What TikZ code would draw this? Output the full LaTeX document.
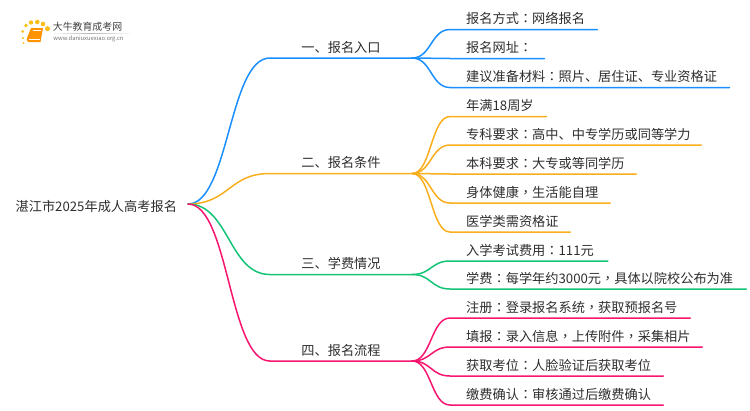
\documentclass[tikz,border=0pt]{standalone}
\usepackage{fontspec}
\setmainfont{Noto Sans CJK SC}
\newfontfamily\tcfont{Noto Sans CJK TC}
\newcommand{\cn}{{\tcfont ：}}
\newcommand{\cm}{{\tcfont ，}}
\definecolor{cblue}{HTML}{1A8FFF}
\definecolor{corange}{HTML}{F9AE1B}
\definecolor{cgreen}{HTML}{14C476}
\definecolor{cpink}{HTML}{F8156F}
\definecolor{ctext}{HTML}{2E2E2E}
\tikzset{
  txt/.style={inner sep=0pt,text=ctext,font=\fontsize{13.2}{16}\selectfont},
  mainbox/.style={txt,anchor=south,minimum height=21pt,minimum width=142pt},
  wire/.style={line width=1.5pt,line cap=round,line join=round}
}
\newcommand{\leaf}[5]{%
  \node[txt,anchor=south west,minimum height=21pt] (#1) at (450,#2) {\makebox[\dimexpr#3pt-450pt\relax][l]{\hspace{16pt}#5}};
  \draw[wire,#4] (#4b) .. controls +(19,0) and ($(#1.south west)+(-19,0)$) .. (#1.south west) -- (#1.south east);
}
\usetikzlibrary{calc}
\begin{document}
\begin{tikzpicture}[x=1pt,y=-1pt]
\useasboundingbox (0,0) rectangle (750,410);
% logo
\foreach \x/\y/\r in {23.5/43/1.0,23/38/1.2,22.7/31.5/1.5,26/25.5/1.9,31/22.5/2.2,37.3/22/2.3,43/24/2.3,47.5/28.7/2.5}
  \fill[corange!80!yellow] (\x,\y) circle (\r);
\shade[left color=white,right color=black!30,draw=none] (52,33) rectangle (90,33.5);
\shade[left color=black!30,right color=white,draw=none] (90,33) rectangle (133,33.5);
\fill[orange!85!yellow] (31,28) -- (43,28) -- (40.5,42) -- (28.5,42) .. controls (26.5,42) and (26.5,39) .. (27,38) -- cycle;
\draw[white,line width=0.5pt] (32.5,30.5) -- (41,30.5) (29,39.5) -- (39.5,39.5);
\node[inner sep=0pt,text=black!75,font=\fontsize{9.9}{12}\selectfont] (logotitle) at (87.5,27) {大牛教育成考网};
\node[inner sep=0pt,text=black!55,font=\fontsize{5.8}{7}\selectfont] (logourl) at (88.5,38.5) {www.daniuxuexiao.org.cn};
% root
\node[txt,minimum width=183pt,anchor=east,minimum height=20pt] (root) at (188,206) {湛江市2025年成人高考报名};
\coordinate (rootc) at (188,204);
% main
\node[mainbox] (m1) at (341,58) {一、报名入口};
\node[mainbox] (m2) at (341,173.5) {二、报名条件};
\node[mainbox] (m3) at (341,274.5) {三、学费情况};
\node[mainbox] (m4) at (341,361) {四、报名流程};
\foreach \m/\c in {m1/cblue,m2/corange,m3/cgreen,m4/cpink}{
  \draw[wire,\c] (rootc) .. controls +(41,0) and ($(\m.south west)+(-41,0)$) .. (\m.south west) -- (\m.south east);
}
\coordinate (cblueb) at (m1.south east);
\coordinate (corangeb) at (m2.south east);
\coordinate (cgreenb) at (m3.south east);
\coordinate (cpinkb) at (m4.south east);
% leaves
\leaf{a1}{29.5}{597}{cblue}{报名方式\cn 网络报名}
\leaf{a2}{58.5}{544}{cblue}{报名网址\cn}
\leaf{a3}{87.5}{729}{cblue}{建议准备材料\cn 照片、居住证、专业资格证}
\leaf{b1}{116.5}{546}{corange}{年满18周岁}
\leaf{b2}{145}{701}{corange}{专科要求\cn 高中、中专学历或同等学力}
\leaf{b3}{174}{636}{corange}{本科要求\cn 大专或等同学历}
\leaf{b4}{203}{610}{corange}{身体健康\cm 生活能自理}
\leaf{b5}{232}{570}{corange}{医学类需资格证}
\leaf{c1}{261}{607.5}{cgreen}{入学考试费用\cn 111元}
\leaf{c2}{289}{746}{cgreen}{学费\cn 每学年约3000元\cm 具体以院校公布为准}
\leaf{d1}{318}{690}{cpink}{注册\cn 登录报名系统\cm 获取预报名号}
\leaf{d2}{347}{702}{cpink}{填报\cn 录入信息\cm 上传附件\cm 采集相片}
\leaf{d3}{376}{663}{cpink}{获取考位\cn 人脸验证后获取考位}
\leaf{d4}{405}{663}{cpink}{缴费确认\cn 审核通过后缴费确认}
\end{tikzpicture}
\end{document}
